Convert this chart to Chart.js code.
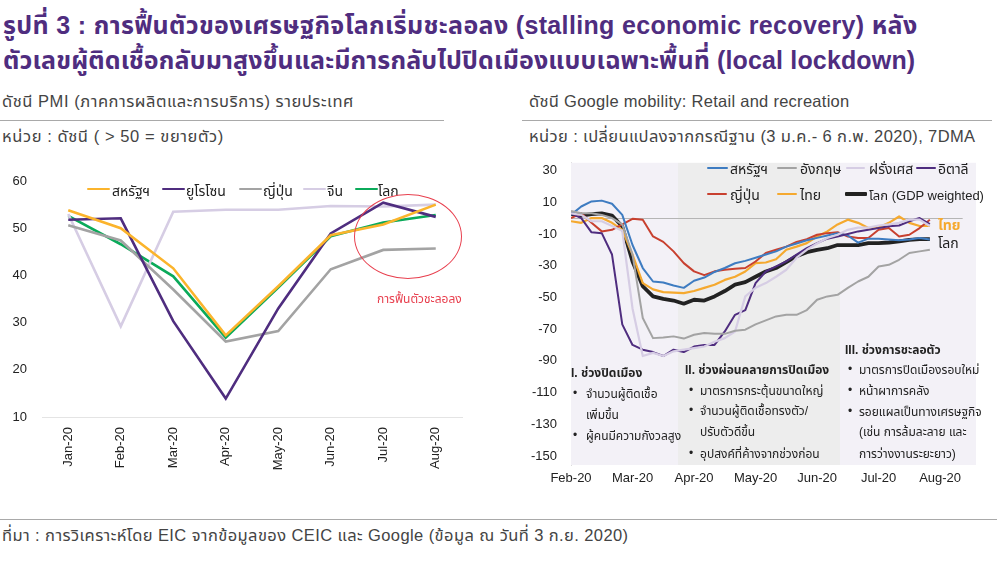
<!DOCTYPE html>
<html lang="th"><head><meta charset="utf-8">
<script src="https://cdn.jsdelivr.net/npm/chart.js@4/dist/chart.umd.min.js"></script>
<style>
html,body{margin:0;padding:0;background:#fff;width:1002px;height:582px;overflow:hidden;font-family:"Liberation Sans","Noto Sans Thai","Noto Sans",sans-serif}
canvas{position:absolute;display:block}
.t{position:absolute;white-space:nowrap;line-height:1;transform:translateY(-50%)}
.r{position:absolute;height:1px;background:#a9a9a9}
.k{position:absolute}
</style></head><body>
<canvas id="left" style="left:0;top:160px"></canvas>
<canvas id="right" style="left:520px;top:149px"></canvas>
<script>
// ---- left chart: PMI
const pmiMonths=['Jan-20','Feb-20','Mar-20','Apr-20','May-20','Jun-20','Jul-20','Aug-20'];
const pmiUS=[53.8,50,41.5,27.3,37.7,48.5,50.8,55];
const pmiEuro=[51.8,52.1,30.3,13.9,33,48.9,55.4,52.4];
const pmiJapan=[50.6,47.4,37,26,28.2,41.3,45.4,45.7];
const pmiChina=[53,29.2,53.5,53.9,53.9,54.7,54.6,55];
const pmiWorld=[52.6,46.6,39.8,26.8,37.4,48.3,51.2,52.8];
// ---- right chart: Google mobility, one reading every 5 days from mid Feb
const mobMonths=['Feb-20','Mar-20','Apr-20','May-20','Jun-20','Jul-20','Aug-20'];
const mobUS=[2,7.3,10.5,11,9,2,-17,-31.5,-40,-40.6,-42.5,-44,-39.5,-37.5,-34,-31.5,-28.5,-27,-25,-23,-21,-18,-16,-14,-12.5,-11,-9.5,-11,-15.5,-13,-13,-13.5,-14,-13.5,-12.5,-13.5];
const mobUK=[4.5,3,3,2,0,-4,-23,-63,-75.7,-75.3,-74.6,-76,-73.6,-72.5,-73,-73,-71,-70.4,-67,-64.5,-62,-61,-61,-58,-51.5,-49.4,-48.4,-44,-40,-37,-30.5,-29.5,-26.3,-22,-21,-20];
const mobFrance=[3,2,-2,-2,-5,-8,-57,-87,-85,-87,-84,-83,-82,-81,-78,-75.7,-71.5,-49.4,-44,-41,-37,-32.6,-25,-20,-16,-12.6,-10.5,-7.4,-6,-6,-4.7,-4,-3,-1,-1,-5];
const mobItaly=[3,0,-9,-9.5,-23,-67,-80,-83,-84.5,-87,-83,-84.5,-81,-80,-80,-71.5,-61,-58,-41,-33.7,-30.5,-27.3,-23,-19,-15.8,-13,-11.6,-10,-8.4,-7.4,-6.3,-5.2,-4.7,-2,0,-3.8];
const mobJapan=[0,3,-3,-8.4,-7.4,-4,-0.5,-1,-11.6,-15,-21,-28.4,-33.6,-36,-33.6,-32.6,-32,-31.5,-27.4,-22,-20,-18,-15,-13.3,-10.5,-9.5,-8.9,-11.6,-12.6,-12.6,-7.4,-6.3,-11.6,-10.5,-6.3,-1];
const mobThai=[-2,-3,0,0,-3,-7.4,-23,-41,-45,-46.7,-47,-47.3,-46,-44,-42,-39,-37,-33.7,-28.4,-28,-26,-20,-18,-15.8,-11.6,-8.4,-4,-1,-3,-6.3,-6,-3,1,-3,-5,-5];
const mobWorld=[2.5,1.6,2.5,3,1.6,-5.3,-27.4,-43,-49.4,-51,-52,-54,-51.5,-52,-49.4,-46,-42,-40.4,-37,-33.7,-31.5,-27.8,-24,-21.5,-20,-19,-17,-17,-17,-15.8,-15.8,-15.4,-14.7,-13.7,-13.3,-13.3];
const mobTicks=[-150,-130,-110,-90,-70,-50,-30,-10,10,30];
// ---- colours
const cOrange='#FBB42C',cPurple='#4F2D7F',cGrey='#A3A3A3',cLilac='#D6CDE4',cGreen='#0BAA5A',cBlue='#3E7CC1',cRed='#C8402F',cBlack='#222222',cAmber='#F5A92F';
const axisFont={family:'"Liberation Sans",sans-serif',size:13};

const leftSeries=[['สหรัฐฯ',pmiUS,cOrange],['ยูโรโซน',pmiEuro,cPurple],['ญี่ปุ่น',pmiJapan,cGrey],['จีน',pmiChina,cLilac],['โลก',pmiWorld,cGreen]];
const rightSeries=[['อังกฤษ',mobUK,cGrey,2],['ฝรั่งเศส',mobFrance,cLilac,2.2],['อิตาลี',mobItaly,cPurple,2],['สหรัฐฯ',mobUS,cBlue,2],['ญี่ปุ่น',mobJapan,cRed,2],['ไทย',mobThai,cAmber,2.2],['โลก',mobWorld,cBlack,3.8]];

function size(id,w,h){const c=document.getElementById(id);c.style.width=w+'px';c.style.height=h+'px';c.width=w;c.height=h;return c;}

new Chart(size('left',500,320),{type:'line',
 data:{labels:pmiMonths,datasets:leftSeries.map(s=>({label:s[0],data:s[1],borderColor:s[2],borderWidth:2.6,pointRadius:0,tension:0,fill:false}))},
 options:{responsive:false,animation:false,devicePixelRatio:1,
  layout:{padding:{top:21,right:38,bottom:0,left:0}},
  plugins:{legend:{display:false},tooltip:{enabled:false}},
  scales:{
   y:{min:10,max:60,afterFit:s=>{s.width=42},grid:{display:false},border:{display:false},ticks:{stepSize:10,font:axisFont,color:'#222',padding:7}},
   x:{offset:true,afterFit:s=>{s.height=63},grid:{display:false},border:{color:'#e4e4e4'},ticks:{font:axisFont,color:'#222',minRotation:90,maxRotation:90,padding:2,autoSkip:false}}
  }}});

const bands=[[0,10.44,'#F3F1F7'],[10.44,26.24,'#EDEDED'],[26.24,39.5,'#F3F1F7']];
const mobBack={id:'mobBack',beforeDatasetsDraw(ch){
 const {ctx,chartArea:a,scales:{x,y}}=ch;ctx.save();
 bands.forEach(b=>{ctx.fillStyle=b[2];ctx.fillRect(x.getPixelForValue(b[0]),a.top,x.getPixelForValue(b[1])-x.getPixelForValue(b[0]),a.bottom-a.top)});
 ctx.strokeStyle='#b5b5b5';ctx.lineWidth=1;ctx.beginPath();const y0=Math.round(y.getPixelForValue(0))+.5;
 ctx.moveTo(x.getPixelForValue(0),y0);ctx.lineTo(x.getPixelForValue(38.2),y0);ctx.stroke();ctx.restore();}};

new Chart(size('right',482,341),{type:'line',plugins:[mobBack],
 data:{datasets:rightSeries.map(s=>({label:s[0],data:s[1].map((v,i)=>({x:i,y:v})),borderColor:s[2],borderWidth:s[3],pointRadius:0,tension:0,fill:false,borderJoinStyle:'round'}))},
 options:{responsive:false,animation:false,devicePixelRatio:1,parsing:false,
  layout:{padding:{top:8,right:26,bottom:0,left:0}},
  plugins:{legend:{display:false},tooltip:{enabled:false}},
  scales:{
   y:{min:-155.7,max:34.85,afterFit:s=>{s.width=51},afterBuildTicks:s=>{s.ticks=mobTicks.map(v=>({value:v}))},grid:{display:false},border:{color:'#dcdcdc'},ticks:{font:axisFont,color:'#222',padding:6}},
   x:{type:'linear',min:0,max:39.5,afterFit:s=>{s.height=25},afterBuildTicks:s=>{s.ticks=mobMonths.map((m,i)=>({value:i*6}))},
      grid:{display:false},border:{display:false},ticks:{font:axisFont,color:'#222',padding:-2,maxRotation:0,autoSkip:false,callback:v=>mobMonths[v/6]}}
  }}});

// ---- page text
const P=(txt,x,y,size,color,extra,fit)=>{const d=document.createElement('div');d.className='t';d.textContent=txt;d.style.cssText=`left:${x}px;top:${y}px;font-size:${size}px;color:${color};${extra||''}`;document.body.appendChild(d);
 if(fit){const w=d.getBoundingClientRect().width;d.style.letterSpacing=((fit-w)/[...txt].length).toFixed(3)+'px';}return d;};
const rule=(x,y,w)=>{const d=document.createElement('div');d.className='r';d.style.cssText=`left:${x}px;top:${y}px;width:${w}px`;document.body.appendChild(d);};
const key=(x,y,w,c,h)=>{const d=document.createElement('div');d.className='k';d.style.cssText=`left:${x}px;top:${y-h/2}px;width:${w}px;height:${h}px;background:${c};border-radius:1px`;document.body.appendChild(d);};
P('รูปที่ 3 : การฟื้นตัวของเศรษฐกิจโลกเริ่มชะลอลง (stalling economic recovery) หลัง',3,25,25,cPurple,'font-weight:700',918);
P('ตัวเลขผู้ติดเชื้อกลับมาสูงขึ้นและมีการกลับไปปิดเมืองแบบเฉพาะพื้นที่ (local lockdown)',3,60,25,cPurple,'font-weight:700',915);
P('ดัชนี PMI (ภาคการผลิตและการบริการ) รายประเทศ',2,101,16.5,'#444','',354);
P('ดัชนี Google mobility: Retail and recreation',529,101,16.5,'#444','',321);
rule(0,120,444);rule(522,120,470);
P('หน่วย : ดัชนี ( > 50 = ขยายตัว)',2,136,16.5,'#444','',224);
P('หน่วย : เปลี่ยนแปลงจากกรณีฐาน (3 ม.ค.- 6 ก.พ. 2020), 7DMA',529,136,16.5,'#444','',448);
rule(0,519,997);
P('ที่มา : การวิเคราะห์โดย EIC จากข้อมูลของ CEIC และ Google (ข้อมูล ณ วันที่ 3 ก.ย. 2020)',2,535,16.5,'#444','',631);
// left legend
[[87,112],[162,186],[239,263],[303,327],[355,378]].forEach((p,i)=>{key(p[0],189,23,leftSeries[i][2],2.6);P(leftSeries[i][0],p[1],191,14,'#222');});
// circle + note
const e=document.createElement('div');e.style.cssText='position:absolute;left:354px;top:194px;width:108px;height:85px;border:1px solid #E8404F;border-radius:50%;box-sizing:border-box';document.body.appendChild(e);
P('การฟื้นตัวชะลอลง',377,299,12,'#E8404F');
// right legend
[['สหรัฐฯ',cBlue,707,21,730,168,2.4],['อังกฤษ',cGrey,777,20,800,168,2.4],['ฝรั่งเศส',cLilac,846,19,869,168,2.4],['อิตาลี',cPurple,916,20,938,168,2.4],
 ['ญี่ปุ่น',cRed,707,20,730,194,2.4],['ไทย',cAmber,777,20,800,194,2.4],['โลก (GDP weighted)',cBlack,845,22,869,194,3.6]].forEach(r=>{key(r[2],r[5],r[3],r[1],r[6]);P(r[0],r[4],r[5]+1,r[0].length>5&&r[0][0]=='โ'?13:14,'#222');});
P('ไทย',938,225,14,cAmber,'font-weight:700');
P('โลก',938,243,14,'#222');
// period notes
[['I. ช่วงปิดเมือง',571,373,1,0],['จำนวนผู้ติดเชื้อ',586,394,0,573],['เพิ่มขึ้น',586,415,0,0],['ผู้คนมีความกังวลสูง',586,436,0,573],
 ['II. ช่วงผ่อนคลายการปิดเมือง',685,370,1,0],['มาตรการกระตุ้นขนาดใหญ่',700,391,0,689],['จำนวนผู้ติดเชื้อทรงตัว/',700,411,0,689],['ปรับตัวดีขึ้น',700,432,0,0],['อุปสงค์ที่ค้างจากช่วงก่อน',700,454,0,689],
 ['III. ช่วงการชะลอตัว',845,350,1,0],['มาตรการปิดเมืองรอบใหม่',859,370,0,848],['หน้าผาการคลัง',859,391,0,848],['รอยแผลเป็นทางเศรษฐกิจ',859,412,0,848],['(เช่น การล้มละลาย และ',859,432,0,0],['การว่างงานระยะยาว)',859,454,0,0]]
.forEach(n=>{P(n[0],n[1],n[2],12,'#222',n[3]?'font-weight:700':'');if(n[4])P('•',n[4],n[2]-1,12,'#222');});
</script>
</body></html>
